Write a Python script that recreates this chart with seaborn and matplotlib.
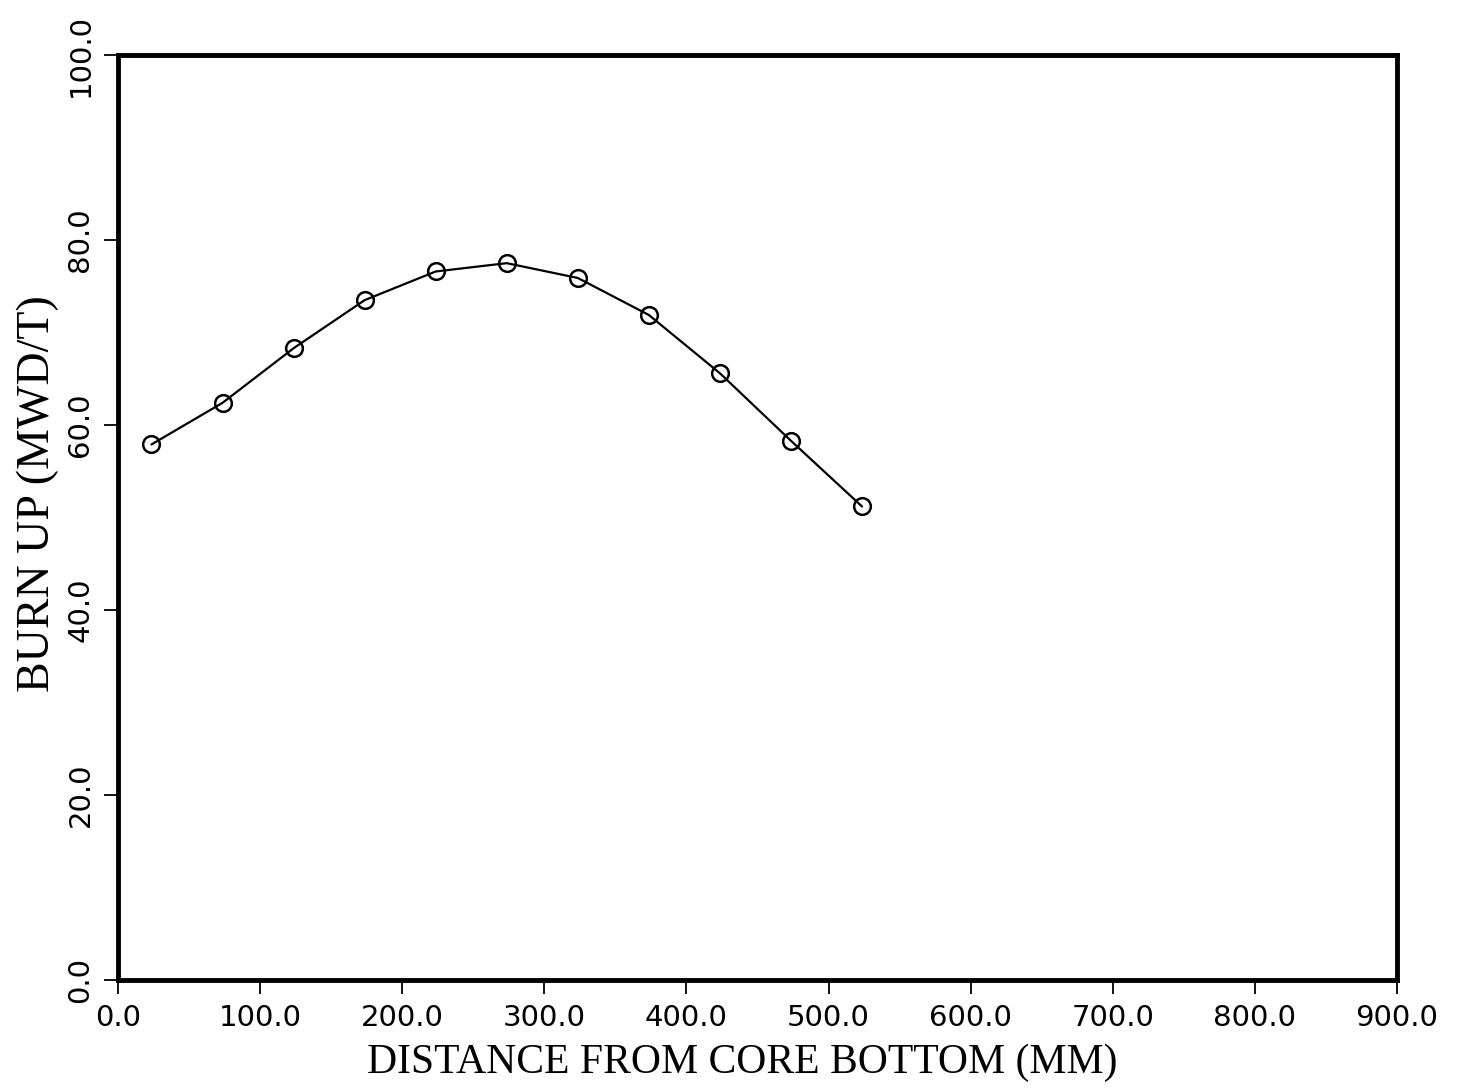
import matplotlib
matplotlib.use("Agg")
import matplotlib.pyplot as plt
import seaborn as sns
import pandas as pd

# Axial burn-up profile along the fuel column
distance_mm = [23.5, 73.5, 123.5, 173.5, 223.5, 273.5, 323.5, 373.5, 423.5, 473.5, 523.5]
burnup = [57.9, 62.4, 68.3, 73.5, 76.6, 77.5, 75.9, 71.9, 65.6, 58.3, 51.2]

x_ticks = [0, 100, 200, 300, 400, 500, 600, 700, 800, 900]
y_ticks = [0, 20, 40, 60, 80, 100]

df = pd.DataFrame({"distance": distance_mm, "burnup": burnup})

sns.set_theme(style="ticks")
plt.rcParams["font.family"] = ["DejaVu Sans"]
plt.rcParams["text.color"] = "black"
plt.rcParams["xtick.color"] = "black"
plt.rcParams["ytick.color"] = "black"

fig = plt.figure(figsize=(14.63, 10.90), dpi=100)
ax = fig.add_axes([0.0807, 0.1009, 0.8742, 0.8486])

sns.lineplot(data=df, x="distance", y="burnup", ax=ax, color="black",
             linewidth=1.6, marker="o", markersize=12, markerfacecolor="none",
             markeredgecolor="black", markeredgewidth=1.8)

ax.set_xlim(0, 900)
ax.set_ylim(0, 100)
ax.set_xticks(x_ticks)
ax.set_yticks(y_ticks)
ax.set_xticklabels([f"{v:.1f}" for v in x_ticks], fontsize=21, color="black")
ax.set_yticklabels([f"{v:.1f}" for v in y_ticks], fontsize=21, color="black",
                   rotation=90, va="center")
ax.tick_params(direction="out", length=10, width=1.3, color="black", pad=7)

for side in ["top", "right", "bottom", "left"]:
    ax.spines[side].set_visible(True)
    ax.spines[side].set_linewidth(3.5)
    ax.spines[side].set_color("black")

ax.set_xlabel("DISTANCE FROM CORE BOTTOM (MM)", fontsize=30, color="black",
              family="Liberation Serif")
ax.set_ylabel("BURN UP (MWD/T)", fontsize=33, color="black",
              family="Liberation Serif")
ax.xaxis.set_label_coords(0.488, -0.069)
ax.yaxis.set_label_coords(-0.046, 0.526)

fig.savefig("out.png", dpi=100, facecolor="white")
